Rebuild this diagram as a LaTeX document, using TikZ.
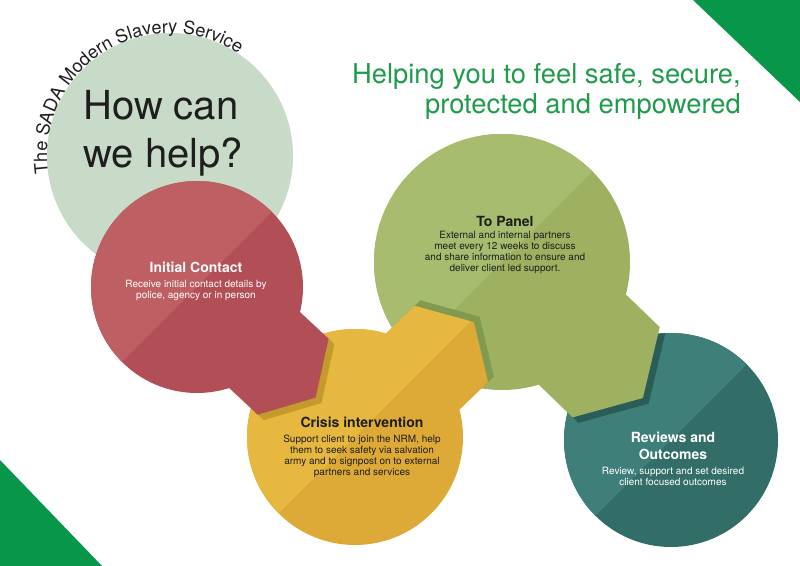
\documentclass[tikz,border=0pt]{standalone}
\usepackage{fontspec}
\setmainfont{TeX Gyre Heros}
\usepackage{tikz}
\usetikzlibrary{positioning,decorations.text}
\usepackage{xcolor}

\definecolor{brandgreen}{HTML}{08964A}
\definecolor{titlegreen}{HTML}{1E9B4B}
\definecolor{sage}{HTML}{C8DBC8}
\definecolor{redlight}{HTML}{BE5F63}
\definecolor{reddark}{HTML}{B24E56}
\definecolor{yellowlight}{HTML}{E6B83F}
\definecolor{yellowdark}{HTML}{DEAA37}
\definecolor{yellowshade}{HTML}{C39A2C}
\definecolor{greenlight}{HTML}{A7BC6E}
\definecolor{greendark}{HTML}{9DB160}
\definecolor{greenshade}{HTML}{809B50}
\definecolor{teallight}{HTML}{3F7F79}
\definecolor{tealdark}{HTML}{336D68}
\definecolor{tealshade}{HTML}{2A5D58}
\definecolor{ink}{HTML}{1E1E1E}

% circle with its pointed arm: colour, x, y, radius, angle
\newcommand{\pinshape}[5]{%
  \fill[#1, shift={(#2,#3)}, rotate=#5, scale=#4]
    (0,0) circle[radius=1]
    (0,-0.49) -- (1.24,-0.49) -- (1.53,0) -- (1.24,0.49) -- (0,0.49) -- cycle;}
% shadow of the arm, pushed a little along its axis
\newcommand{\armshadow}[5]{%
  \fill[#1, shift={(#2,#3)}, rotate=#5, xshift=6pt, scale=#4]
    (0,-0.49) -- (1.24,-0.49) -- (1.53,0) -- (1.24,0.49) -- (0,0.49) -- cycle;}
% upper left half plane through a centre
\newcommand{\lighthalf}[2]{\clip (#1,#2) ++(-300,-300) -- ++(600,600) -- ++(-600,0) -- cycle;}

\begin{document}
\begin{tikzpicture}[
    x=0.75pt, y=0.75pt,
    head/.style={font=\bfseries\fontsize{10.5}{12.5}\selectfont, align=center, inner sep=0pt},
    body/.style={font=\fontsize{7.5}{8.25}\selectfont, align=center, inner sep=0pt},
    big/.style={font=\fontsize{30}{36}\selectfont, align=left, inner sep=0pt, text=ink},
    title/.style={font=\fontsize{20.5}{22.5}\selectfont, align=right, inner sep=0pt, text=titlegreen}
]

\useasboundingbox (0,0) rectangle (800,-566);
\fill[white] (0,0) rectangle (800,-566);

% Corners
\fill[brandgreen] (693,0) -- (800,0) -- (800,-102) -- cycle;
\fill[brandgreen] (0,-460) -- (0,-566) -- (102,-566) -- cycle;

% How can we help
\fill[sage] (170,-156) circle[radius=123];
\path[decorate, decoration={text along path,
    text={|\color{ink}\fontsize{13.6}{13.6}\selectfont|The SADA Modern Slavery Service}}]
    (170,-156) ++(188:123) arc[start angle=188, end angle=30, radius=123];

% Reviews and Outcomes
\fill[tealdark] (671,-440) circle[radius=107];
\begin{scope}
  \lighthalf{671}{-440}
  \fill[teallight] (671,-440) circle[radius=107];
\end{scope}
\begin{scope}
  \clip (671,-440) circle[radius=107];
  \armshadow{tealshade}{502}{-262}{128}{-44}
\end{scope}

% To Panel
\pinshape{greendark}{502}{-262}{128}{-44}
\begin{scope}
  \lighthalf{502}{-262}
  \pinshape{greenlight}{502}{-262}{128}{-44}
\end{scope}
\begin{scope}
  \clip (502,-262) circle[radius=128];
  \armshadow{greenshade}{355}{-437}{108}{44}
\end{scope}

% Crisis intervention
\pinshape{yellowdark}{355}{-437}{108}{44}
\begin{scope}
  \lighthalf{355}{-437}
  \pinshape{yellowlight}{355}{-437}{108}{44}
\end{scope}
\begin{scope}
  \clip (355,-437) circle[radius=108];
  \armshadow{yellowshade}{197}{-287}{106}{-43}
\end{scope}

% Initial Contact
\pinshape{reddark}{197}{-287}{106}{-43}
\begin{scope}
  \lighthalf{197}{-287}
  \pinshape{redlight}{197}{-287}{106}{-43}
\end{scope}

% Texts
\node[title, anchor=north east] (title) at (741,-63) {Helping you to feel safe, secure,\\protected and empowered};
\node[big, anchor=north west] (help) at (83,-90) {How can\\we help?};

\node[head, text=white, anchor=base] (contact) at (196,-273) {Initial Contact};
\node[body, text=white, below=5pt of contact] (contactbody) {Receive initial contact details by\\police, agency or in person};

\node[head, text=ink, anchor=base] (crisis) at (362,-428) {Crisis intervention};
\node[body, text=ink, below=5pt of crisis] (crisisbody) {Support client to join the NRM, help\\them to seek safety via salvation\\army and to signpost on to external\\partners and services};

\node[head, text=ink, anchor=base] (panel) at (505,-227) {To Panel};
\node[body, text=ink, below=2.8pt of panel] (panelbody) {External and internal partners\\meet every 12 weeks to discuss\\and share information to ensure and\\deliver client led support.};

\node[head, text=white, anchor=north] (review) at (673,-432) {Reviews and\\Outcomes};
\node[body, text=white, below=5pt of review] (reviewbody) {Review, support and set desired\\client focused outcomes};

\end{tikzpicture}
\end{document}
